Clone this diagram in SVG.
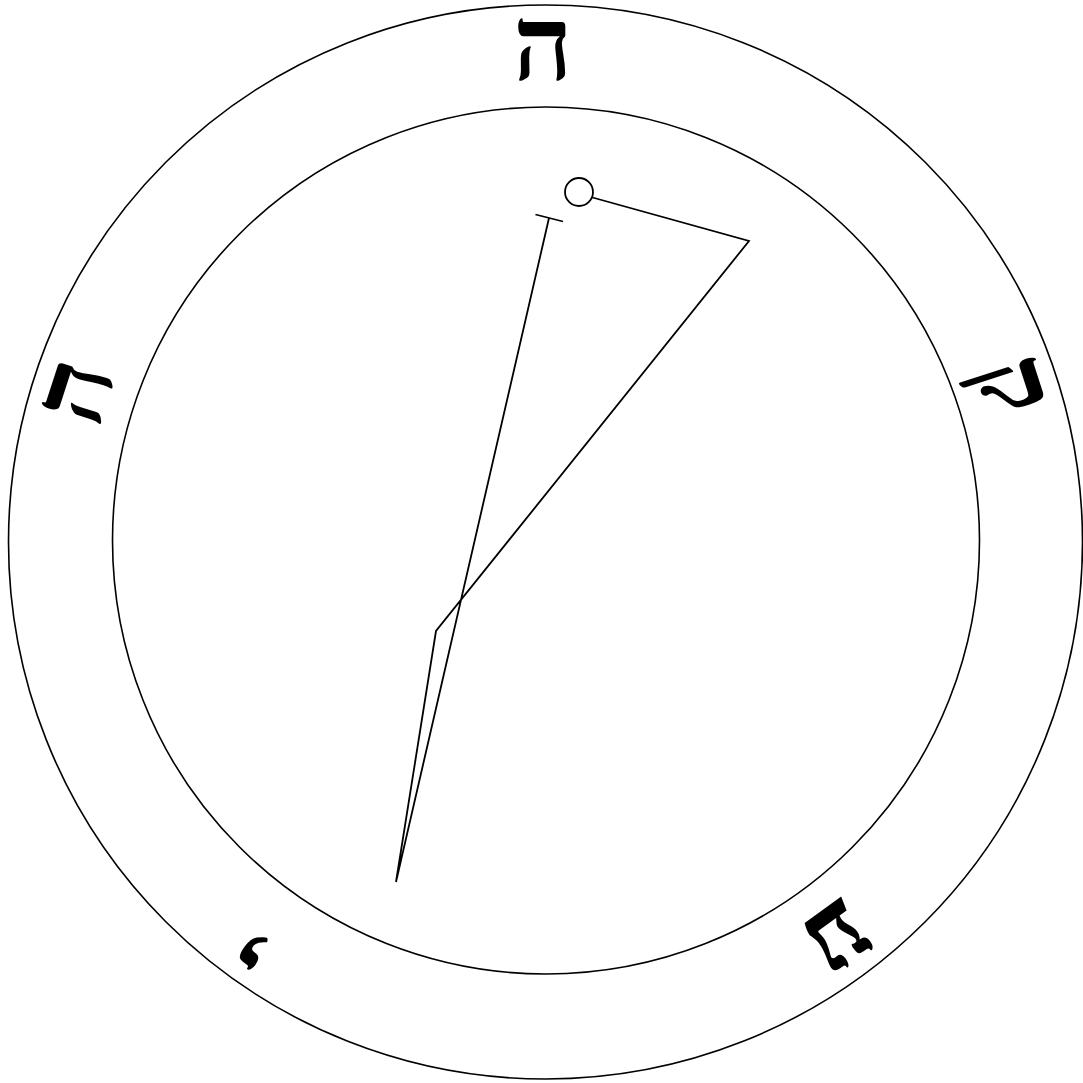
<svg xmlns="http://www.w3.org/2000/svg" width="1083" height="1083" viewBox="0 0 1083 1083">
<style>
.ring{fill:none;stroke:#000;stroke-width:1.6}
.ln{fill:none;stroke:#000;stroke-width:1.8;stroke-linejoin:miter}
.let{font-family:"Liberation Serif","DejaVu Serif",serif;font-size:104px;font-weight:bold;text-anchor:middle;fill:#000}
</style>
<rect width="1083" height="1083" fill="#fff"/>
<g id="rings">
<circle class="ring" cx="545.5" cy="542" r="537"/>
<circle class="ring" cx="546" cy="540.5" r="433.5"/>
</g>
<g id="letters">
<g id="letter-he-top"><text class="let" x="543" y="80">ה</text></g>
<g id="letter-qof"><text class="let" x="543" y="80" transform="rotate(72 546 541)">ק</text></g>
<g id="letter-ayin"><text class="let" x="543" y="80" transform="rotate(144 546 541)">ע</text></g>
<g id="letter-yod"><text class="let" x="543" y="80" transform="rotate(216 546 541)">י</text></g>
<g id="letter-he-left"><text class="let" x="543" y="80" transform="rotate(288 546 541)">ה</text></g>
</g>
<g id="connectors">
<circle class="ln" cx="579" cy="192" r="14"/>
<polyline class="ln" points="592.5,197.5 749,241 436,631 396,882 549,218"/>
<line class="ln" x1="535.5" y1="214.5" x2="563" y2="221.5"/>
</g>
</svg>
